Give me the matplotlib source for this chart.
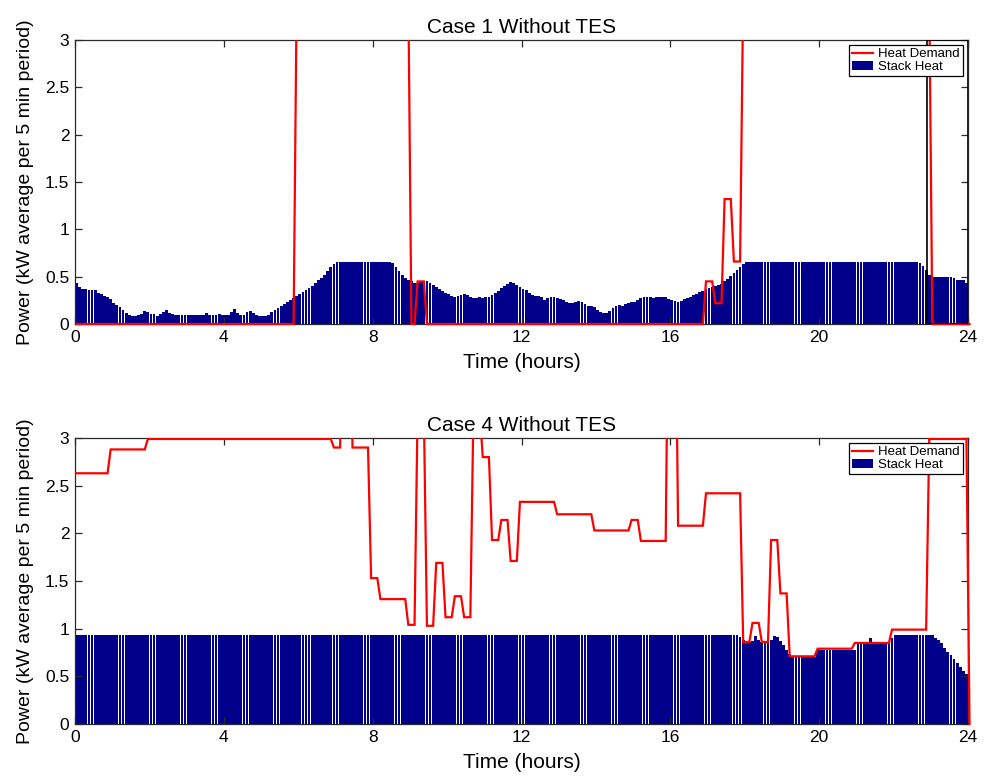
import numpy as np
import matplotlib
matplotlib.use("Agg")
import matplotlib.pyplot as plt
from matplotlib.lines import Line2D
from matplotlib.patches import Patch
from matplotlib.transforms import Bbox, TransformedBbox

plt.rcParams['font.family'] = ['Liberation Sans', 'DejaVu Sans']

# ---------------------------------------------------------------------------
# Data: one value per 5-minute period over 24 hours (kW average)
# ---------------------------------------------------------------------------
STEP_H = 5.0 / 60.0

# Case 1 stack heat, one row per hour (12 five-minute periods each)
case1_stack_rows = [
    [0.43, 0.39, 0.37, 0.37, 0.36, 0.36, 0.36, 0.33, 0.32, 0.30, 0.28, 0.26],
    [0.22, 0.20, 0.18, 0.15, 0.12, 0.095, 0.085, 0.085, 0.09, 0.11, 0.14, 0.13],
    [0.11, 0.11, 0.08, 0.11, 0.13, 0.15, 0.12, 0.11, 0.09, 0.09, 0.09, 0.09],
    [0.09, 0.09, 0.10, 0.09, 0.09, 0.10, 0.12, 0.10, 0.09, 0.09, 0.11, 0.10],
    [0.09, 0.10, 0.13, 0.155, 0.12, 0.09, 0.10, 0.13, 0.14, 0.12, 0.09, 0.08],
    [0.08, 0.08, 0.10, 0.13, 0.15, 0.17, 0.19, 0.21, 0.23, 0.25, 0.27, 0.30],
    [0.32, 0.34, 0.36, 0.38, 0.40, 0.43, 0.46, 0.49, 0.52, 0.56, 0.60, 0.63],
    [0.66, 0.66, 0.66, 0.66, 0.66, 0.66, 0.66, 0.66, 0.66, 0.66, 0.66, 0.66],
    [0.66, 0.66, 0.66, 0.66, 0.66, 0.66, 0.64, 0.60, 0.56, 0.52, 0.49, 0.47],
    [0.45, 0.43, 0.43, 0.44, 0.45, 0.45, 0.43, 0.41, 0.39, 0.37, 0.35, 0.33],
    [0.32, 0.30, 0.28, 0.30, 0.31, 0.32, 0.31, 0.29, 0.27, 0.27, 0.28, 0.27],
    [0.28, 0.29, 0.31, 0.33, 0.35, 0.38, 0.40, 0.42, 0.44, 0.43, 0.41, 0.39],
    [0.37, 0.36, 0.33, 0.31, 0.30, 0.30, 0.28, 0.25, 0.27, 0.29, 0.28, 0.27],
    [0.26, 0.25, 0.23, 0.22, 0.22, 0.23, 0.24, 0.23, 0.21, 0.19, 0.19, 0.18],
    [0.15, 0.13, 0.12, 0.12, 0.14, 0.17, 0.19, 0.20, 0.19, 0.21, 0.22, 0.23],
    [0.23, 0.25, 0.27, 0.29, 0.29, 0.28, 0.27, 0.28, 0.29, 0.29, 0.28, 0.26],
    [0.25, 0.24, 0.23, 0.24, 0.26, 0.27, 0.29, 0.31, 0.32, 0.34, 0.35, 0.37],
    [0.38, 0.39, 0.40, 0.41, 0.42, 0.45, 0.48, 0.51, 0.54, 0.57, 0.60, 0.63],
    [0.66, 0.66, 0.66, 0.66, 0.66, 0.66, 0.66, 0.66, 0.66, 0.66, 0.66, 0.66],
    [0.66, 0.66, 0.66, 0.66, 0.66, 0.66, 0.66, 0.66, 0.66, 0.66, 0.66, 0.66],
    [0.66, 0.66, 0.66, 0.66, 0.66, 0.66, 0.66, 0.66, 0.66, 0.66, 0.66, 0.66],
    [0.66, 0.66, 0.66, 0.66, 0.66, 0.66, 0.66, 0.66, 0.66, 0.66, 0.66, 0.66],
    [0.66, 0.66, 0.66, 0.66, 0.66, 0.66, 0.66, 0.66, 0.64, 0.61, 0.57, 0.52],
    [0.50, 0.50, 0.50, 0.50, 0.50, 0.50, 0.50, 0.49, 0.47, 0.46, 0.46, 0.43],
]

# Case 1 heat demand as levels held for a number of 5-minute steps
case1_demand_levels = [0.0, 3.5, 0.0, 0.45, 0.0, 0.45, 0.22, 1.32, 0.66, 3.5, 0.0]
case1_demand_steps = [71, 37, 2, 3, 90, 3, 3, 3, 3, 61, 13]

# Case 4 stack heat as levels held for a number of 5-minute steps
case4_stack_levels = [0.93, 0.91, 0.88, 0.86, 0.87, 0.92, 0.88, 0.86, 0.88,
                      0.92, 0.91, 0.87, 0.83, 0.78, 0.73, 0.70, 0.78, 0.85,
                      0.90, 0.85, 0.90, 0.93, 0.90, 0.88, 0.85, 0.80, 0.76,
                      0.72, 0.68, 0.64, 0.60, 0.56, 0.52]
case4_stack_steps = [214, 1, 1, 2, 1, 1, 1, 3, 1,
                     1, 1, 1, 1, 1, 1, 8, 13, 4,
                     1, 6, 1, 13, 1, 1, 1, 1, 1,
                     1, 1, 1, 1, 1, 1]

# Case 4 heat demand as levels held for a number of 5-minute steps
case4_demand_levels = [2.63, 2.88, 2.99, 2.90, 5.0, 2.90, 1.53, 1.31, 1.04,
                       3.3, 1.03, 1.69, 1.12, 1.34, 1.12, 3.3, 2.80, 1.93,
                       2.14, 1.71, 2.33, 2.20, 2.03, 2.14, 1.92, 5.0, 2.08,
                       2.42, 0.86, 1.06, 0.86, 1.93, 1.37, 0.71, 0.79, 0.85,
                       0.99, 2.99, 0.0]
case4_demand_steps = [11, 12, 60, 3, 3, 6, 3, 9, 3,
                      3, 3, 3, 3, 3, 3, 3, 3, 3,
                      3, 3, 12, 12, 12, 3, 9, 3, 9,
                      12, 3, 3, 3, 3, 3, 9, 12, 12,
                      12, 13, 1]

# Boxed span drawn on the Case 1 panel (hours)
case1_box_span = (22.91, 24.0)

titles = ["Case 1 Without TES", "Case 4 Without TES"]
x_ticks = [0, 4, 8, 12, 16, 20, 24]
y_ticks = [0, 0.5, 1, 1.5, 2, 2.5, 3]
y_tick_labels = ["0", "0.5", "1", "1.5", "2", "2.5", "3"]

case1_stack = np.concatenate([np.asarray(r, float) for r in case1_stack_rows])
case1_demand = np.repeat(case1_demand_levels, case1_demand_steps)
case4_stack = np.repeat(case4_stack_levels, case4_stack_steps)
case4_demand = np.repeat(case4_demand_levels, case4_demand_steps)

bar_t = (np.arange(case1_stack.size) + 0.5) * STEP_H
line_t = (np.arange(case1_demand.size) + 0.5) * STEP_H

NAVY = "#00008B"
AXIS_COLOR = "#2a2a2a"

fig = plt.figure(figsize=(9.86, 7.8), dpi=100)
W, H = 986.0, 780.0
ax1 = fig.add_axes([75 / W, 1 - 324 / H, 893 / W, 284 / H])
ax2 = fig.add_axes([75 / W, 1 - 724 / H, 893 / W, 286 / H])


def draw_panel(ax, stack, demand, title):
    ax.bar(bar_t, stack, width=0.9 * STEP_H, color=NAVY, linewidth=0,
           zorder=1)
    line, = ax.plot(line_t, demand, color="red", lw=1.6, zorder=3,
                    solid_joinstyle="miter")
    # let the demand trace sit on top of the bottom / right frame lines
    line.set_clip_box(TransformedBbox(Bbox.from_extents(-0.002, -0.012, 1.004, 1.0),
                                      ax.transAxes))
    ax.set_xlim(0, 24)
    ax.set_ylim(0, 3)
    ax.set_xticks(x_ticks)
    ax.set_xticklabels([str(t) for t in x_ticks])
    ax.set_yticks(y_ticks)
    ax.set_yticklabels(y_tick_labels)
    ax.tick_params(direction="in", length=5, width=0.9, color=AXIS_COLOR,
                   top=True, right=True, labelsize=12.5, pad=4)
    for s in ax.spines.values():
        s.set_color(AXIS_COLOR)
        s.set_linewidth(0.9)
    ax.set_title(title, fontsize=15, pad=5)
    ax.set_xlabel("Time (hours)", fontsize=15, labelpad=6)
    ax.set_ylabel("Power (kW average per 5 min period)", fontsize=14, labelpad=8)
    handles = [Line2D([], [], color="red", lw=1.6),
               Patch(facecolor=NAVY, edgecolor="none")]
    leg = ax.legend(handles, ["Heat Demand", "Stack Heat"], loc="upper right",
                    fontsize=9.5, fancybox=False, framealpha=1, edgecolor="black",
                    borderpad=0.25, handlelength=1.6, handletextpad=0.4,
                    labelspacing=0.05, borderaxespad=0.35)
    leg.get_frame().set_linewidth(0.9)
    leg.set_zorder(5)


draw_panel(ax1, case1_stack, case1_demand, titles[0])
ax1.axvspan(case1_box_span[0], case1_box_span[1], fill=False, edgecolor="black",
            linewidth=1.2, zorder=3.5)
draw_panel(ax2, case4_stack, case4_demand, titles[1])

fig.savefig("out.png", dpi=100, facecolor="white")
